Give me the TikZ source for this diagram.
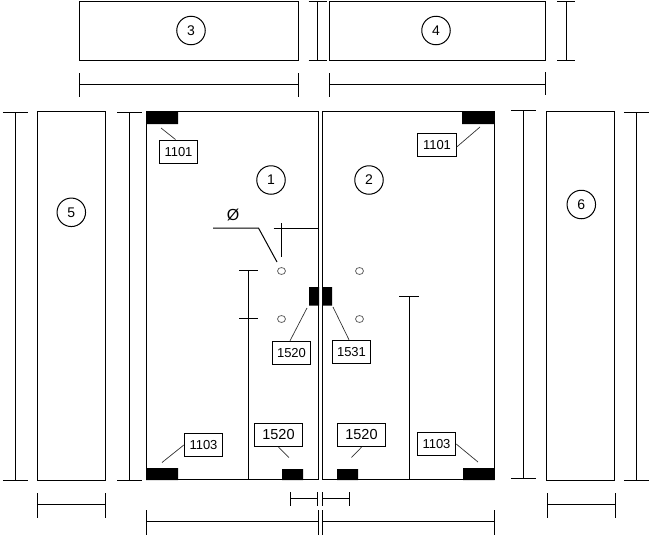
\documentclass[tikz,border=0pt]{standalone}
\usepackage{fontspec}
\setmainfont{Liberation Sans}
\tikzset{
 partlabel/.style={draw,fill=white,minimum width=38.4pt,minimum height=23.4pt,inner sep=0pt,font=\fontsize{13}{15}\selectfont},
 biglabel/.style={partlabel,minimum width=48.4pt,font=\fontsize{14.5}{16}\selectfont},
 partnum/.style={draw,circle,minimum size=28.5pt,inner sep=0pt,font=\fontsize{14}{16}\selectfont},
 hole/.style={draw=black!60,fill=white,line width=0.8pt},
 leader/.style={line width=0.7pt,black!80},
}
\begin{document}
\begin{tikzpicture}[x=1pt,y=-1pt,line width=1pt,line join=miter]
 \useasboundingbox (0,0) rectangle (651,536);
 % panels
 \draw (79,1.5) rectangle (298.5,60);
 \draw (329.5,1.5) rectangle (545,60);
 \draw (37.5,111.5) rectangle (105.5,480.3);
 \draw (546.3,111.5) rectangle (614.3,480.3);
 \draw (146.5,111.5) rectangle (318.5,479.5);
 \draw (322.5,111.5) rectangle (494.5,479.5);
 % patches
 \fill (146,111) rectangle (178,124) (462,111) rectangle (494.5,124)
 (146,468) rectangle (178,480) (463,468) rectangle (494.5,480)
 (282,469) rectangle (303,480) (337,469) rectangle (358,480)
 (309,287) rectangle (319,305.5) (322,287) rectangle (332,305.5);
 % holes
 \foreach \hx in {281.5,359.5} \foreach \hy in {271,319}
 \draw[hole] (\hx,\hy) ellipse (4 and 3.5);
 % numbers
 \node[partnum] (num1) at (271,180) {1};
 \node[partnum] (num2) at (369,180) {2};
 \node[partnum] (num3) at (191,30.5) {3};
 \node[partnum] (num4) at (436,30.5) {4};
 \node[partnum] (num5) at (71.3,212.3) {5};
 \node[partnum] (num6) at (581.3,204.5) {6};
 % labels
 \node[partlabel] (lblA) at (178.5,151.7) {1101};
 \node[partlabel] (lblB) at (437,145) {1101};
 \node[partlabel] (lblC) at (203.5,445) {1103};
 \node[partlabel] (lblD) at (436.5,444) {1103};
 \node[biglabel] (lblE) at (278.5,435) {1520};
 \node[biglabel] (lblF) at (361.5,435) {1520};
 \node[partlabel] (lblG) at (291.5,353) {1520};
 \node[partlabel] (lblH) at (351.5,352) {1531};
 \node (dia) at (233,215) {\fontsize{16}{18}\selectfont Ø};
 % leader ends
 \coordinate (endA) at (161,128);
 \coordinate (endB) at (480,127);
 \coordinate (endC) at (162,462.5);
 \coordinate (endD) at (478,462);
 \coordinate (endE) at (289,457.5);
 \coordinate (endF) at (351.5,457.5);
 \coordinate (endG) at (307,308);
 \coordinate (endH) at (333,307);
 \draw[leader] ([xshift=-3pt]lblA.north) -- (endA);
 \draw[leader] ([yshift=-2pt]lblB.east) -- (endB);
 \draw[leader] (lblC.west) -- (endC);
 \draw[leader] (lblD.east) -- (endD);
 \draw[leader] (lblE.south) -- (endE);
 \draw[leader] (lblF.south) -- (endF);
 \draw[leader] ([xshift=-1.5pt]lblG.north) -- (endG);
 \draw[leader] ([xshift=-2.5pt]lblH.north) -- (endH);
 % hole dimension
 \draw (213,228) -- (258.5,228) -- (277,262);
 \draw (273.5,228) -- (318,228) (281.5,223) -- (281.5,257);
 % inner heights
 \draw (248,270.5) -- (248,479.5) (239,270.5) -- (258,270.5) (239,318.5) -- (258,318.5);
 \draw (409.5,296.5) -- (409.5,479.5) (399,296.5) -- (419,296.5);
 % outer dimensions, vertical
 \foreach \dx/\dw/\dtop/\dbot in {15.3/12.5/112.5/480.3,129.5/12.5/112.5/480.3,523.3/12.5/110.5/478.5,636.4/12.5/112.5/480.3,317.5/9/1.5/60,566/9/1.5/60}
 \draw (\dx,\dtop) -- (\dx,\dbot) (\dx-\dw,\dtop) -- (\dx+\dw,\dtop) (\dx-\dw,\dbot) -- (\dx+\dw,\dbot);
 % outer dimensions, horizontal
 \draw (79,84.5) -- (298.5,84.5) (79,73) -- (79,97) (298.5,73) -- (298.5,97);
 \draw (329.5,84.5) -- (545,84.5) (329.5,73) -- (329.5,97) (545,72) -- (545,95);
 \draw (37.5,504.3) -- (105.5,504.3) (37.5,493) -- (37.5,518) (105.5,493) -- (105.5,518);
 \draw (547.3,504.3) -- (615.3,504.3) (547.3,493) -- (547.3,518) (615.3,493) -- (615.3,518);
 \draw (290.5,498.5) -- (317.5,498.5) (290.5,492) -- (290.5,505.5) (317.5,492) -- (317.5,505.5);
 \draw (322.5,498.5) -- (349.5,498.5) (322.5,492) -- (322.5,505.5) (349.5,492) -- (349.5,505.5);
 \draw (146.5,521) -- (318,521) (146.5,510) -- (146.5,534.5) (318,510) -- (318,534.5);
 \draw (322.5,521) -- (494.5,521) (322.5,510) -- (322.5,534.5) (494.5,510) -- (494.5,534.5);
\end{tikzpicture}
\end{document}
